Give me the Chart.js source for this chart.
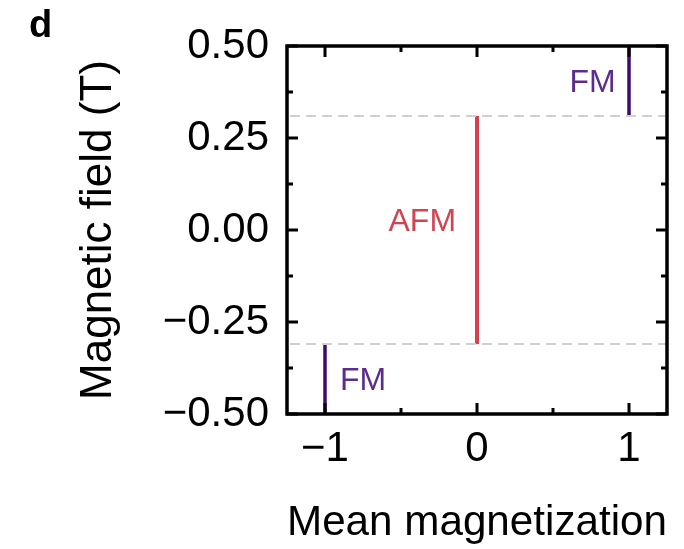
<!DOCTYPE html>
<html>
<head>
<meta charset="utf-8">
<script src="https://cdn.jsdelivr.net/npm/chart.js@4/dist/chart.umd.min.js"></script>
<style>
  body { margin: 0; background: #fff; }
  canvas { display: block; }
</style>
</head>
<body>
<canvas id="chart" width="684" height="549"></canvas>
<script>
// axis ticks
const xTicks = [-1, 0, 1];
const xMinor = [-0.5, 0.5];
const yTicks = [-0.5, -0.25, 0, 0.25, 0.5];
const yMinor = [-0.375, -0.125, 0.125, 0.375];

// phase boundaries
const fieldCritical = [-0.31, 0.31];
const afmX = [0, 0];
const afmY = [-0.31, 0.31];
const fmLowX = [-1, -1];
const fmLowY = [-0.5, -0.31];
const fmHighX = [1, 1];
const fmHighY = [0.31, 0.5];

// text labels in data coordinates
const phaseLabels = [
  { text: 'FM', x: 0.76, y: 0.40, color: '#5b2e8e' },
  { text: 'AFM', x: -0.36, y: 0.02, color: '#d34452' },
  { text: 'FM', x: -0.75, y: -0.41, color: '#5b2e8e' },
];

const FONT = "'Liberation Sans', Arial, sans-serif";
const RED = '#d6404c';
const PURPLE = '#3c0b6c';

const pts = (xs, ys) => xs.map((x, i) => ({ x, y: ys[i] }));
const minus = s => s.replace('-', '\u2212');

const framePlugin = {
  id: 'frame',
  afterDraw(chart) {
    const { ctx, chartArea: a, scales: { x, y } } = chart;
    ctx.save();
    ctx.strokeStyle = '#000';
    ctx.lineWidth = 3.5;
    ctx.strokeRect(a.left, a.top, a.right - a.left, a.bottom - a.top);

    ctx.lineWidth = 3;
    const tick = (len, vals, horiz) => {
      vals.forEach(v => {
        ctx.beginPath();
        if (horiz) {
          const px = x.getPixelForValue(v);
          ctx.moveTo(px, a.bottom); ctx.lineTo(px, a.bottom - len);
          ctx.moveTo(px, a.top); ctx.lineTo(px, a.top + len);
        } else {
          const py = y.getPixelForValue(v);
          ctx.moveTo(a.left, py); ctx.lineTo(a.left + len, py);
          ctx.moveTo(a.right, py); ctx.lineTo(a.right - len, py);
        }
        ctx.stroke();
      });
    };
    tick(11, xTicks, true);
    tick(6, xMinor, true);
    tick(11, yTicks, false);
    tick(6, yMinor, false);

    ctx.textAlign = 'center';
    ctx.textBaseline = 'middle';
    ctx.font = '32px ' + FONT;
    phaseLabels.forEach(l => {
      ctx.fillStyle = l.color;
      ctx.fillText(l.text, x.getPixelForValue(l.x), y.getPixelForValue(l.y));
    });

    ctx.fillStyle = '#000';
    ctx.font = 'bold 38px ' + FONT;
    ctx.textAlign = 'left';
    ctx.textBaseline = 'alphabetic';
    ctx.fillText('d', 29, 37);
    ctx.restore();
  }
};

const lineStyle = (color, width) => ({
  borderColor: color,
  borderWidth: width,
  pointRadius: 0,
  borderCapStyle: 'butt',
  fill: false,
  clip: false,
});

new Chart(document.getElementById('chart'), {
  type: 'line',
  data: {
    datasets: [
      { data: pts([-1.23, 1.25], [fieldCritical[1], fieldCritical[1]]), ...lineStyle('#d0d0d0', 2), borderDash: [10, 6] },
      { data: pts([-1.23, 1.25], [fieldCritical[0], fieldCritical[0]]), ...lineStyle('#d0d0d0', 2), borderDash: [10, 6] },
      { data: pts(afmX, afmY), ...lineStyle(RED, 4) },
      { data: pts(fmLowX, fmLowY), ...lineStyle(PURPLE, 3.5) },
      { data: pts(fmHighX, fmHighY), ...lineStyle(PURPLE, 3.5) },
    ]
  },
  options: {
    responsive: false,
    animation: false,
    devicePixelRatio: 1,
    layout: { padding: { top: 46, right: 17, left: 0, bottom: 0 } },
    plugins: { legend: { display: false }, tooltip: { enabled: false } },
    scales: {
      x: {
        type: 'linear',
        min: -1.25,
        max: 1.25,
        grid: { display: false, drawTicks: false },
        border: { display: false },
        afterBuildTicks: s => { s.ticks = xTicks.map(v => ({ value: v })); },
        afterFit: s => { s.height = 135; },
        ticks: {
          autoSkip: false,
          maxRotation: 0,
          padding: 10,
          color: '#000',
          font: { family: FONT, size: 42 },
          callback: v => minus(String(v)),
        },
        title: {
          display: true,
          text: 'Mean magnetization',
          color: '#000',
          font: { family: FONT, size: 43, lineHeight: 1.2 },
          padding: { top: 0, bottom: 0 },
        },
      },
      y: {
        type: 'linear',
        min: -0.5,
        max: 0.5,
        grid: { display: false, drawTicks: false },
        border: { display: false },
        afterBuildTicks: s => { s.ticks = yTicks.map(v => ({ value: v })); },
        afterFit: s => { s.width = 287; },
        ticks: {
          autoSkip: false,
          padding: 18,
          color: '#000',
          font: { family: FONT, size: 42 },
          callback: v => minus(v.toFixed(2)),
        },
        title: {
          display: true,
          text: 'Magnetic field (T)',
          color: '#000',
          font: { family: FONT, size: 44, lineHeight: 1.2 },
          padding: { top: 72, bottom: 0 },
        },
      },
    },
  },
  plugins: [framePlugin],
});
</script>
</body>
</html>
